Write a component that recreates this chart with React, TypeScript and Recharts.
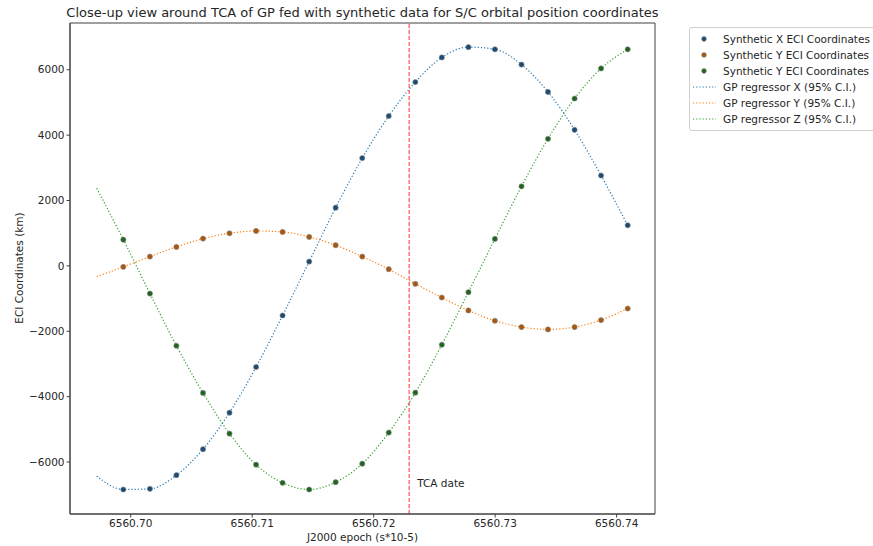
import React from "react";
import {
  ComposedChart,
  Line,
  Scatter,
  XAxis,
  YAxis,
  ReferenceLine,
  ReferenceArea,
} from "recharts";

// synthetic samples (epoch in s*10-5)
const epochs = [
  6560.69939, 6560.70158, 6560.70376, 6560.70595, 6560.70813, 6560.71032, 6560.7125, 6560.71469,
  6560.71687, 6560.71906, 6560.72124, 6560.72343, 6560.72561, 6560.7278, 6560.72998, 6560.73217,
  6560.73435, 6560.73654, 6560.73872, 6560.74091,
];
const xEci = [
  -6840, -6820, -6403, -5608, -4489, -3093, -1517, 131, 1780, 3298, 4585, 5624, 6376, 6692, 6626,
  6159, 5322, 4162, 2765, 1243,
];
const yEci = [
  -30, 285, 580, 834, 998, 1069, 1038, 885, 632, 285, -102, -550, -967, -1364, -1679, -1872, -1944,
  -1872, -1659, -1303,
];
const zEci = [
  803, -846, -2443, -3887, -5130, -6082, -6635, -6840, -6617, -6052, -5099, -3878, -2412, -804, 824,
  2434, 3887, 5120, 6040, 6626,
];

// GP regressor curves start one step before the first sample
const gpEpochs = [6560.6972, ...epochs];
const gpX = [-6428, ...xEci];
const gpY = [-326, ...yEci];
const gpZ = [2372, ...zEci];

const tcaEpoch = 6560.72292;
const xTicks = [6560.7, 6560.71, 6560.72, 6560.73, 6560.74];
const yTicks = [-6000, -4000, -2000, 0, 2000, 4000, 6000];
const xDomain = [6560.695, 6560.74316];
const yDomain = [-7590, 7430];

const scatterNames = [
  "Synthetic X ECI Coordinates",
  "Synthetic Y ECI Coordinates",
  "Synthetic Y ECI Coordinates",
];
const lineNames = ["GP regressor X (95% C.I.)", "GP regressor Y (95% C.I.)", "GP regressor Z (95% C.I.)"];

const lineColors = ["#1f77b4", "#ff7f0e", "#2ca02c"];
const pointColors = ["#1b4a72", "#a8570f", "#1f651f"];

const toPoints = (xs: number[], vs: number[]) => xs.map((t, i) => ({ t, v: vs[i] }));

const samples = [toPoints(epochs, xEci), toPoints(epochs, yEci), toPoints(epochs, zEci)];
const curves = [toPoints(gpEpochs, gpX), toPoints(gpEpochs, gpY), toPoints(gpEpochs, gpZ)];

const font = "'DejaVu Sans', sans-serif";
const textColor = "#262626";
const dash = "1.2 2";

const makeDot = (color: string) => (props: any) =>
  <circle cx={props.cx} cy={props.cy} r={2.6} fill={color} stroke="#8c8c8c" strokeWidth={0.6} />;

function TcaLabel(props: any) {
  const vb = props.viewBox || {};
  return (
    <text x={vb.x + 8} y={487} fontSize={10.5} fontFamily={font} fill={textColor}>
      TCA date
    </text>
  );
}

function LegendBox() {
  const row = { height: 16, display: "flex", alignItems: "center", whiteSpace: "nowrap" as const };
  return (
    <div
      style={{
        position: "absolute",
        left: 689,
        top: 27,
        border: "1px solid #d0d0d0",
        borderRadius: 3,
        background: "rgba(255,255,255,0.8)",
        padding: "3px 0",
        width: 200,
        fontFamily: font,
        fontSize: 10.5,
        color: textColor,
      }}
    >
      {scatterNames.map((name, i) => (
        <div key={"s" + i} style={row}>
          <svg width={33} height={16} style={{ flex: "none" }}>
            <circle cx={14} cy={8} r={2.4} fill={pointColors[i]} stroke="#8c8c8c" strokeWidth={0.6} />
          </svg>
          <span>{name}</span>
        </div>
      ))}
      {lineNames.map((name, i) => (
        <div key={"l" + i} style={row}>
          <svg width={33} height={16} style={{ flex: "none" }}>
            <line x1={3} y1={8} x2={26} y2={8} stroke={lineColors[i]} strokeWidth={1.2} strokeDasharray={dash} />
          </svg>
          <span>{name}</span>
        </div>
      ))}
    </div>
  );
}

const fmtY = (v: number) => String(v).replace("-", "\u2212");

export default function App() {
  return (
    <div
      style={{
        position: "absolute",
        left: 0,
        top: 0,
        width: 873,
        height: 546,
        overflow: "hidden",
        background: "#fff",
        fontFamily: font,
      }}
    >
      <div
        style={{
          position: "absolute",
          left: 0,
          width: 725,
          top: 5,
          textAlign: "center",
          fontSize: 13,
          lineHeight: "16px",
          color: textColor,
          whiteSpace: "nowrap",
        }}
      >
        Close-up view around TCA of GP fed with synthetic data for S/C orbital position coordinates
      </div>
      <ComposedChart
        width={873}
        height={546}
        margin={{ top: 23, right: 218, bottom: 12, left: 10 }}
      >
        <XAxis
          type="number"
          dataKey="t"
          domain={xDomain}
          ticks={xTicks}
          allowDataOverflow
          tickFormatter={(v: number) => v.toFixed(2)}
          tickSize={3.5}
          height={20}
          stroke="#404040"
          tick={{ fill: textColor, fontSize: 10.5, fontFamily: font }}
        />
        <YAxis
          type="number"
          dataKey="v"
          domain={yDomain}
          ticks={yTicks}
          allowDataOverflow
          tickFormatter={fmtY}
          tickSize={3.5}
          width={60}
          stroke="#404040"
          tick={{ fill: textColor, fontSize: 10.5, fontFamily: font }}
        />
        <ReferenceArea
          x1={xDomain[0]}
          x2={xDomain[1]}
          y1={yDomain[0]}
          y2={yDomain[1]}
          fill="none"
          stroke="#404040"
          strokeWidth={1}
        />
        {curves.map((d, i) => (
          <Line
            key={"gp" + i}
            data={d}
            dataKey="v"
            type="monotone"
            stroke={lineColors[i]}
            strokeWidth={1.2}
            strokeDasharray={dash}
            dot={false}
            activeDot={false}
            isAnimationActive={false}
          />
        ))}
        {samples.map((d, i) => (
          <Scatter
            key={"s" + i}
            data={d}
            dataKey="v"
            fill={pointColors[i]}
            shape={makeDot(pointColors[i])}
            isAnimationActive={false}
          />
        ))}
        <ReferenceLine
          x={tcaEpoch}
          stroke="#ff3030"
          strokeWidth={1}
          strokeDasharray="4 2"
          label={<TcaLabel />}
        />
      </ComposedChart>
      <LegendBox />
      <div
        style={{
          position: "absolute",
          left: 70,
          width: 585,
          top: 530,
          textAlign: "center",
          fontSize: 10.5,
          lineHeight: "14px",
          color: textColor,
        }}
      >
        J2000 epoch (s*10-5)
      </div>
      <div
        style={{
          position: "absolute",
          left: 19,
          top: 268,
          transform: "translate(-50%, -50%) rotate(-90deg)",
          fontSize: 10.5,
          lineHeight: "14px",
          color: textColor,
          whiteSpace: "nowrap",
        }}
      >
        ECI Coordinates (km)
      </div>
    </div>
  );
}
